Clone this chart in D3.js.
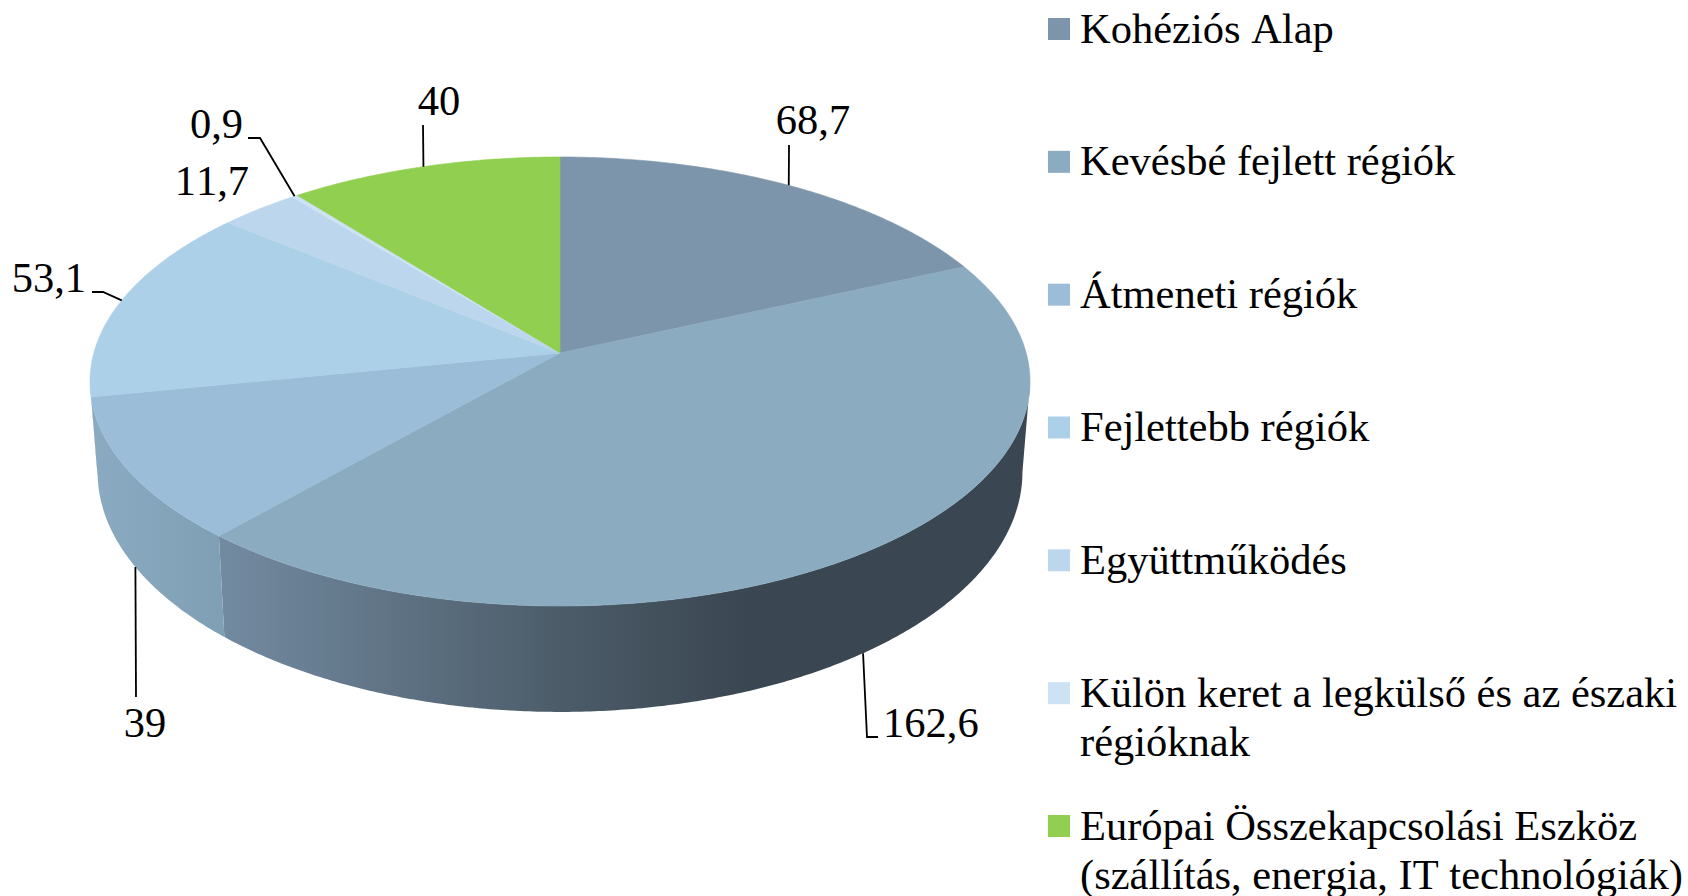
<!DOCTYPE html>
<html>
<head>
<meta charset="utf-8">
<script src="https://cdn.jsdelivr.net/npm/d3@7"></script>
<style>
    html, body { margin: 0; background: #fff; }
    svg { display: block; }
    text { font-family: "Liberation Serif", serif; font-size: 42.5px; font-kerning: none; fill: #000; }
</style>
</head>
<body>
<svg id="chart" width="1688" height="896"></svg>
<script>
const categories = [
    "Kohéziós Alap",
    "Kevésbé fejlett régiók",
    "Átmeneti régiók",
    "Fejlettebb régiók",
    "Együttműködés",
    "Külön keret a legkülső és az északi régióknak",
    "Európai Összekapcsolási Eszköz (szállítás, energia, IT technológiák)"
];
const values = [68.7, 162.6, 39, 53.1, 11.7, 0.9, 40];
const valueLabels = ["68,7", "162,6", "39", "53,1", "11,7", "0,9", "40"];
const colors = ["#7D95AA", "#8BABC1", "#9BBDD7", "#ACD0E8", "#BCD7ED", "#CDE2F4", "#91CF50"];

// wrapped legend lines, same order as categories
const legendLines = [
    ["Kohéziós Alap"],
    ["Kevésbé fejlett régiók"],
    ["Átmeneti régiók"],
    ["Fejlettebb régiók"],
    ["Együttműködés"],
    ["Külön keret a legkülső és az északi", "régióknak"],
    ["Európai Összekapcsolási Eszköz", "(szállítás, energia, IT technológiák)"]
];

// side wall colours for the slices that show one, [x offset, colour]
const sideGradients = {
    1: [[0, "#728AA0"], [0.42, "#4C5C69"], [0.66, "#3A4651"], [1, "#3A4651"]],
    2: [[0, "#8AAAC1"], [1, "#7F9FB5"]],
    3: [[0, "#7E97AB"], [1, "#7E97AB"]]
};

// where each value label sits and how its leader runs
const labelPos = [
    { x: 813, y: 134, anchor: "middle", leader: [[789, 145]] },
    { x: 883, y: 737, anchor: "start", leader: [[867, 737], [878, 737]], base: true },
    { x: 145, y: 737, anchor: "middle", leader: [[136, 697]], base: true },
    { x: 86, y: 292, anchor: "end", leader: [[103, 292], [92, 292]] },
    { x: 249, y: 195, anchor: "end" },
    { x: 243, y: 138, anchor: "end", leader: [[260, 138], [248, 138]] },
    { x: 439, y: 115, anchor: "middle", leader: [[423, 125]] }
];

const svg = d3.select("#chart");

// circle -> screen, perspective tilted towards the viewer
const tilt = 0.1269;
const project = (face, angle) => {
    const x = Math.sin(angle);
    const y = -Math.cos(angle);
    const w = 1 - tilt * y;
    return [face.cx + face.a * x / w, face.cy + face.b * y / w];
};
const topFace = { cx: 560, cy: 353, a: 466.2, b: 220.9 };
const baseFace = { cx: 560, cy: 441.5, a: 458.7, b: 236.1 };

const pie = d3.pie().sort(null).value(d => d);
const slices = pie(values);
const line = d3.line();

const arcPoints = (face, a0, a1) => {
    const n = Math.max(2, Math.ceil((a1 - a0) * 120));
    return d3.range(n + 1).map(i => project(face, a0 + (a1 - a0) * i / n));
};

const defs = svg.append("defs");

// the wall is seen between the two tangent points of the outline
const sideFrom = Math.acos(-tilt);
const sideTo = 2 * Math.PI - sideFrom;

const sides = slices
    .map((d, i) => ({ i, a0: Math.max(d.startAngle, sideFrom), a1: Math.min(d.endAngle, sideTo) }))
    .filter(d => d.a1 > d.a0);

sides.forEach(d => {
    const xs = arcPoints(baseFace, d.a0, d.a1).map(p => p[0]);
    const g = defs.append("linearGradient")
        .attr("id", `side-${d.i}`)
        .attr("gradientUnits", "userSpaceOnUse")
        .attr("x1", d3.min(xs))
        .attr("x2", d3.max(xs))
        .attr("y1", 0)
        .attr("y2", 0);
    sideGradients[d.i].forEach(s => g.append("stop").attr("offset", s[0]).attr("stop-color", s[1]));
});

svg.append("g").selectAll("path")
    .data(sides)
    .join("path")
    .attr("d", d => line([
        ...arcPoints(topFace, d.a0, d.a1),
        ...arcPoints(baseFace, d.a0, d.a1).reverse()
    ]) + "Z")
    .attr("fill", d => `url(#side-${d.i})`);

svg.append("g").selectAll("path")
    .data(slices)
    .join("path")
    .attr("d", d => line([
        [topFace.cx, topFace.cy],
        ...arcPoints(topFace, d.startAngle, d.endAngle)
    ]) + "Z")
    .attr("fill", (d, i) => colors[i])
    .attr("stroke", (d, i) => colors[i])
    .attr("stroke-width", 0.6);

// leaders start on the rim at the slice's middle angle
const midAngle = d => (d.startAngle + d.endAngle) / 2;

svg.append("g").selectAll("path")
    .data(slices.filter((d, i) => labelPos[i].leader))
    .join("path")
    .attr("d", d => {
        const pos = labelPos[d.index];
        return line([project(pos.base ? baseFace : topFace, midAngle(d)), ...pos.leader]);
    })
    .attr("fill", "none")
    .attr("stroke", "#000")
    .attr("stroke-width", 1.8);

svg.append("g").selectAll("text")
    .data(valueLabels)
    .join("text")
    .attr("x", (d, i) => labelPos[i].x)
    .attr("y", (d, i) => labelPos[i].y)
    .attr("text-anchor", (d, i) => labelPos[i].anchor)
    .text(d => d);

// legend
const legendY = d3.scalePoint(categories, [29, 826]);

const legend = svg.append("g").selectAll("g")
    .data(categories)
    .join("g")
    .attr("transform", d => `translate(1048, ${legendY(d)})`);

legend.append("rect")
    .attr("y", -11)
    .attr("width", 22)
    .attr("height", 22)
    .attr("fill", (d, i) => colors[i]);

legend.each(function (d, i) {
    d3.select(this).selectAll("text")
        .data(legendLines[i])
        .join("text")
        .attr("x", 32)
        .attr("y", (t, j) => 13.5 + j * 49)
        .text(t => t);
});
</script>
</body>
</html>
